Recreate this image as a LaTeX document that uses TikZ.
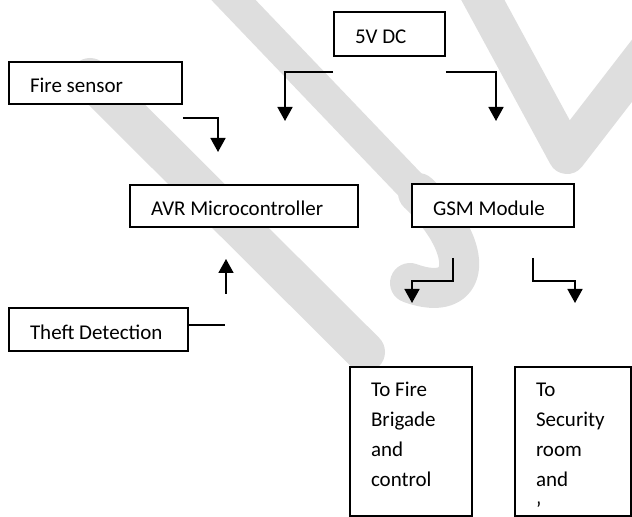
\documentclass[tikz,border=0pt]{standalone}
\usepackage{fontspec}
\setmainfont{Carlito}
\usetikzlibrary{arrows.meta}
\definecolor{wmark}{gray}{0.87}

\begin{document}
\begin{tikzpicture}[x=0.5pt, y=-0.5pt, line width=0.85pt,
		font=\fontsize{10.5}{15}\selectfont,
		box/.style={draw, fill=white, align=flush left, inner xsep=10.5pt,
			minimum height=21pt, text height=10pt, text depth=0pt},
		tall/.style={draw, fill=white, align=flush left, inner xsep=10.5pt,
			inner ysep=0pt, text height=15pt, text depth=59.5pt},
		arr/.style={-{Triangle[length=7pt,width=7.5pt]}},
		wm/.style={draw=wmark, line cap=round, line join=round}
		]
	\useasboundingbox (0,0) rectangle (632,517);
	% watermark behind the blocks
	\draw[wm, line width=20pt] (90,78) -- (365,352);
	\draw[wm, line width=16pt] (222,-12) -- (418,193);
	\draw[wm, line width=20pt] (418,193) .. controls (478,250) and (470,305) .. (410,283);
	\draw[wm, line width=19pt] (472,-20) -- (567,155) -- (665,28);

	% blocks
	\node [box, text width=34.5pt, minimum height=22pt] (pwr) at (389.5,34) {5V DC};
	\node [box, text width=65.5pt] (fire) at (95.5,83) {Fire sensor};
	\node [box, text width=93pt] (avr) at (244,206) {AVR Microcontroller};
	\node [box, text width=60pt, minimum height=21.5pt] (gsm) at (493,205.5) {GSM Module};
	\node [box, text width=68.5pt, minimum height=21.5pt] (theft) at (98.5,329.5) {Theft Detection};
	\node [tall, text width=40pt] (brig) at (411,441.5) {To Fire\\Brigade\\and\\control};
	\node [tall, text width=37pt] (secu) at (573,441.5) {To\\Security\\room\\and\\'};

	% free ends of the connectors
	\coordinate (fsa) at ([yshift=-6.5pt]fire.south east);
	\coordinate (fsb) at (218,152);
	\coordinate (pl) at ([yshift=-7.5pt]pwr.south west);
	\coordinate (plt) at (285,121);
	\coordinate (pr) at ([yshift=-7.5pt]pwr.south east);
	\coordinate (prt) at (496,121);
	\coordinate (thb) at (225,325);
	\coordinate (tua) at (226,294);
	\coordinate (tub) at (226,259);
	\coordinate (gla) at (453,258);
	\coordinate (glb) at (412,303);
	\coordinate (gra) at (533,258);
	\coordinate (grb) at (575,303);

	% connectors
	\draw[arr] (fsa) -| (fsb);
	\draw[arr] (pl) -| (plt);
	\draw[arr] (pr) -| (prt);
	\draw ([yshift=2.25pt]theft.east) -- (thb);
	\draw[arr] (tua) -- (tub);
	\draw[arr] (gla) -- ++(0,23) -| (glb);
	\draw[arr] (gra) -- ++(0,23) -| (grb);
\end{tikzpicture}
\end{document}
